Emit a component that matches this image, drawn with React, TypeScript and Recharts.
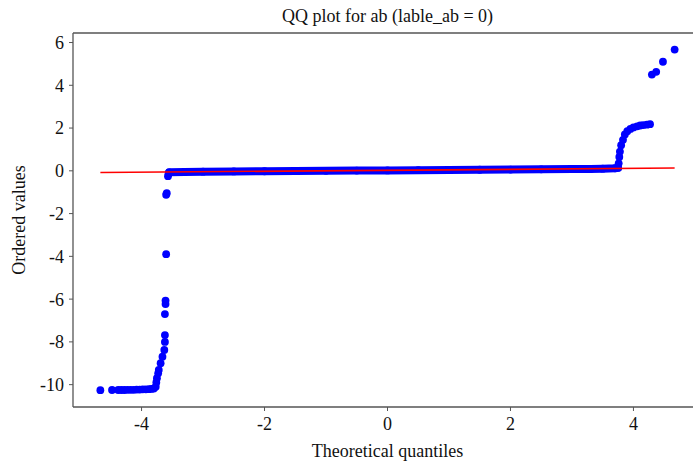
import { ScatterChart, Scatter, XAxis, YAxis, ReferenceLine } from 'recharts'

// ordered values vs theoretical quantiles
const leftTail: [number, number][] = [
  [-4.67, -10.26], [-4.48, -10.25], [-4.38, -10.25], [-4.33, -10.25], [-4.28, -10.25],
  [-4.23, -10.24], [-4.18, -10.24], [-4.13, -10.24], [-4.08, -10.23], [-4.03, -10.23],
  [-3.98, -10.22], [-3.93, -10.22], [-3.88, -10.21], [-3.84, -10.2], [-3.8, -10.18],
  [-3.77, -10.1], [-3.76, -9.9], [-3.75, -9.7], [-3.73, -9.47], [-3.72, -9.31],
  [-3.69, -9.0], [-3.66, -8.69], [-3.63, -8.38], [-3.62, -8.0], [-3.62, -7.68],
  [-3.62, -6.7], [-3.61, -6.23], [-3.61, -6.07], [-3.6, -3.9], [-3.6, -1.12],
  [-3.59, -1.05], [-3.57, -0.25], [-3.56, -0.12],
]

const middleBand: [number, number][] = [
  [-3.55, -0.07], [-3.3, -0.05], [-3.0, -0.04], [-2.5, -0.03], [-2.0, -0.02],
  [-1.5, -0.01], [-1.0, 0.0], [-0.5, 0.01], [0.0, 0.02], [0.5, 0.03],
  [1.0, 0.04], [1.5, 0.05], [2.0, 0.06], [2.5, 0.07], [3.0, 0.08],
  [3.3, 0.09], [3.5, 0.1], [3.7, 0.12], [3.75, 0.14],
]

const rightTail: [number, number][] = [
  [3.76, 0.35], [3.77, 0.65], [3.78, 0.9], [3.8, 1.2], [3.83, 1.45],
  [3.86, 1.7], [3.9, 1.85], [3.95, 1.96], [4.0, 2.03], [4.06, 2.08],
  [4.11, 2.12], [4.16, 2.14], [4.22, 2.16], [4.27, 2.18],
  [4.3, 4.5], [4.37, 4.63], [4.48, 5.1], [4.67, 5.67],
]

const fitLine: [number, number][] = [[-4.67, -0.08], [4.67, 0.13]]

const xTicks = [-4, -2, 0, 2, 4]
const yTicks = [-10, -8, -6, -4, -2, 0, 2, 4, 6]

const toPoints = (rows: [number, number][]) => rows.map(([x, y]) => ({ x, y }))

const BLUE = '#0000ff'
const SPINE = '#555'
const FONT = '"Liberation Serif", "Times New Roman", serif'

const dot = (p: any) => <circle cx={p.cx} cy={p.cy} r={3.9} fill={BLUE} />
const noDot = () => <g />

const tickStyle = { fontFamily: FONT, fontSize: 18, fill: '#111' }

export default function App() {
  return (
    <div
      style={{
        position: 'fixed', left: 0, top: 0, width: 693, height: 465,
        overflow: 'hidden', background: '#fff', fontFamily: FONT, color: '#111',
      }}
    >
      <ScatterChart width={712} height={465} margin={{ top: 33, right: 10, bottom: 0, left: 0 }}>
        <XAxis
          type="number"
          dataKey="x"
          domain={[-5.115, 5.115]}
          ticks={xTicks}
          allowDataOverflow
          height={58}
          tickSize={4}
          tickMargin={6}
          tick={tickStyle}
          axisLine={{ stroke: SPINE, strokeWidth: 1.3 }}
          tickLine={{ stroke: SPINE }}
        />
        <YAxis
          type="number"
          dataKey="y"
          domain={[-11.045, 6.445]}
          ticks={yTicks}
          allowDataOverflow
          width={73}
          tickSize={4}
          tickMargin={5}
          tick={tickStyle}
          axisLine={{ stroke: SPINE, strokeWidth: 1.3 }}
          tickLine={{ stroke: SPINE }}
        />
        <ReferenceLine y={6.445} stroke={SPINE} strokeWidth={1.3} />
        <Scatter data={toPoints(leftTail)} shape={dot} isAnimationActive={false} />
        <Scatter
          data={toPoints(middleBand)}
          shape={dot}
          line={{ stroke: BLUE, strokeWidth: 8, strokeLinecap: 'round', strokeLinejoin: 'round' }}
          isAnimationActive={false}
        />
        <Scatter data={toPoints(rightTail)} shape={dot} isAnimationActive={false} />
        <Scatter
          data={toPoints(fitLine)}
          shape={noDot}
          line={{ stroke: '#ff0000', strokeWidth: 1.6 }}
          isAnimationActive={false}
        />
      </ScatterChart>

      {/* title and axis labels */}
      <div style={{ position: 'absolute', left: 73, width: 629, top: 7, textAlign: 'center', fontSize: 18, lineHeight: '18px' }}>
        QQ plot for ab (lable_ab = 0)
      </div>
      <div style={{ position: 'absolute', left: 73, width: 629, top: 442, textAlign: 'center', fontSize: 18, lineHeight: '18px' }}>
        Theoretical quantiles
      </div>
      <div
        style={{
          position: 'absolute', left: 19 - 100, top: 220 - 9, width: 200, textAlign: 'center',
          fontSize: 18, lineHeight: '18px', transform: 'rotate(-90deg)',
        }}
      >
        Ordered values
      </div>
    </div>
  )
}
